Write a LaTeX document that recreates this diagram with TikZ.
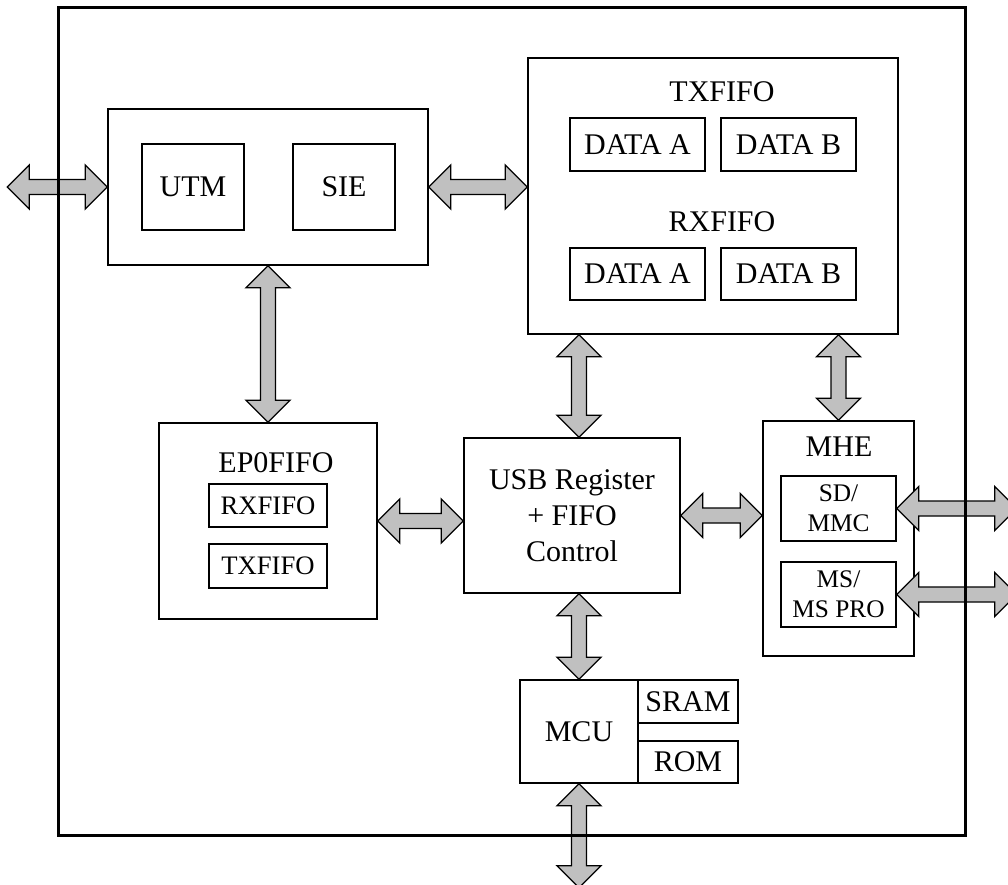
\documentclass[tikz,border=0pt]{standalone}
\usepackage{fontspec}
\setmainfont{Liberation Serif}
\usetikzlibrary{calc,fit}
\definecolor{busgray}{RGB}{192,192,192}

\newcommand{\hbus}[2]{%
  \draw[bus] (#1) -- ++(22,-22) -- ++(0,14.5) -- ($(#2)+(-22,-7.5)$) -- ++(0,-14.5) -- (#2)
    -- ++(-22,22) -- ++(0,-14.5) -- ($(#1)+(22,7.5)$) -- ++(0,14.5) -- cycle;}
\newcommand{\vbus}[2]{%
  \draw[bus] (#1) -- ++(22,22) -- ++(-14.5,0) -- ($(#2)+(7.5,-22)$) -- ++(14.5,0) -- (#2)
    -- ++(-22,-22) -- ++(14.5,0) -- ($(#1)+(-7.5,22)$) -- ++(-14.5,0) -- cycle;}

\begin{document}
\begin{tikzpicture}[x=0.75pt,y=-0.75pt,
    box/.style={draw, line width=1.1pt, inner sep=0pt},
    lbl/.style={inner sep=0pt, align=center, font=\fontsize{22.5}{27}\selectfont},
    lbls/.style={lbl, font=\fontsize{20}{24}\selectfont},
    lblc/.style={lbl, font=\fontsize{19}{22.5}\selectfont},
    bus/.style={draw, line width=1pt, fill=busgray, line join=miter}]
  \useasboundingbox (0,0) rectangle (1008,885);
  \clip (0,0) rectangle (1008,885);

  \node[box, fit={(108,109) (428,265)}] (PHY) {};
  \node[box, fit={(142,144) (244,230)}, label={[lbl]center:UTM}] (UTM) {};
  \node[box, fit={(293,144) (395,230)}, label={[lbl]center:SIE}] (SIE) {};

  \node[box, fit={(528,58) (898,334)}] (FIFO) {};
  \node[lbl] (TX) at (722,92) {TXFIFO};
  \node[box, fit={(570,118) (705,171)}, label={[lbl]center:DATA A}] (TXA) {};
  \node[box, fit={(721,118) (856,171)}, label={[lbl]center:DATA B}] (TXB) {};
  \node[lbl] (RX) at (722,222) {RXFIFO};
  \node[box, fit={(570,248) (705,300)}, label={[lbl]center:DATA A}] (RXA) {};
  \node[box, fit={(721,248) (856,300)}, label={[lbl]center:DATA B}] (RXB) {};

  \node[box, fit={(159,423) (377,619)}] (EP0) {};
  \node[lbl] (EP0L) at (276,463) {EP0FIFO};
  \node[box, fit={(209,484) (327,527)}, label={[lbls]center:RXFIFO}] (EPRX) {};
  \node[box, fit={(209,544) (327,588)}, label={[lbls]center:TXFIFO}] (EPTX) {};

  \node[box, fit={(464,438) (680,593)},
    label={[lbl]center:USB Register\\+ FIFO\\Control}] (USB) {};

  \node[box, fit={(763,421) (914,656)}] (MHE) {};
  \node[lbl] (MHEL) at (839,447) {MHE};
  \node[box, fit={(781,476) (896,541)}, label={[lblc]center:SD/\\MMC}] (SD) {};
  \node[box, fit={(781,562) (896,627)}, label={[lblc]center:MS/\\MS PRO}] (MS) {};

  \node[box, fit={(520,680) (638,783)}, label={[lbl]center:MCU}] (MCU) {};
  \node[box, fit={(638,680) (738,723)}, label={[lbl]center:SRAM}] (SRAM) {};
  \node[box, fit={(638,741) (738,783)}, label={[lbl]center:ROM}] (ROM) {};

  \coordinate (L) at ($(PHY.west)+(-100,0)$);
  \coordinate (T1) at (MCU.north |- FIFO.south);
  \coordinate (T2) at (MCU.north |- USB.north);
  \coordinate (T3) at (MHE.north |- FIFO.south);
  \coordinate (T4) at (MCU.north |- USB.south);
  \coordinate (B) at ($(MCU.south)+(0,104)$);
  \coordinate (R1) at ($(SD.east)+(120,0)$);
  \coordinate (R2) at ($(MS.east)+(120,0)$);

  \hbus{L}{PHY.west}
  \hbus{PHY.east}{FIFO.west |- PHY.east}
  \vbus{PHY.south}{EP0.north}
  \vbus{T1}{T2}
  \vbus{T3}{MHE.north}
  \hbus{EP0.east}{USB.west |- EP0.east}
  \hbus{USB.east}{MHE.west |- USB.east}
  \vbus{T4}{MCU.north}
  \vbus{MCU.south}{B}
  \hbus{SD.east}{R1}
  \hbus{MS.east}{R2}

  \draw[line width=2.25pt] (58,7) rectangle (965,835);
\end{tikzpicture}
\end{document}
